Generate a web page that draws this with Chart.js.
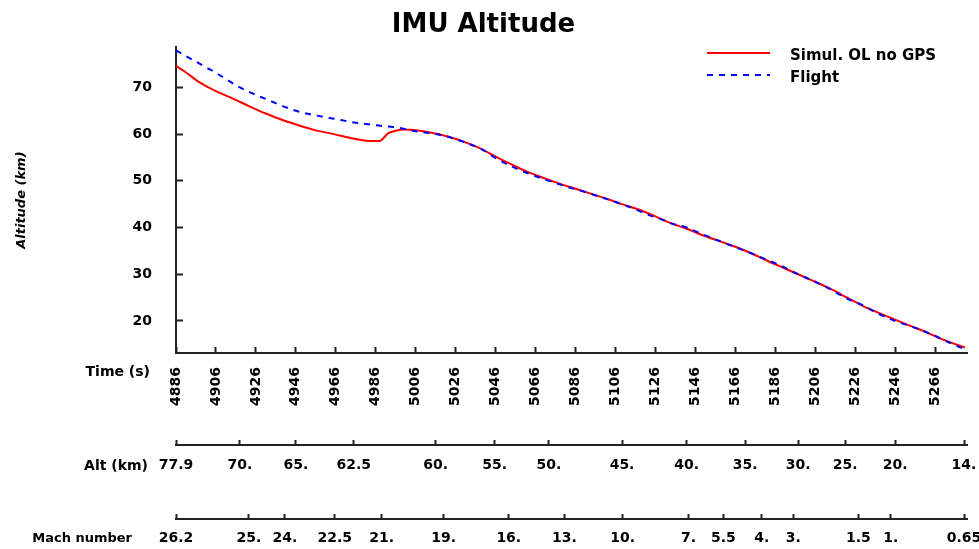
<!DOCTYPE html>
<html>
<head>
<meta charset="utf-8">
<title>IMU Altitude</title>
<script src="https://cdn.jsdelivr.net/npm/chart.js@4.4.1/dist/chart.umd.min.js"></script>
<style>
  html, body { margin: 0; padding: 0; background: #fff; }
  #wrap { width: 979px; height: 549px; }
</style>
</head>
<body>
<div id="wrap"><canvas id="c" width="979" height="549"></canvas></div>
<script>
// Simulated open-loop trajectory without GPS aiding: time (s) and altitude (km)
const simTime = [4886, 4890, 4898, 4906, 4915, 4923, 4931, 4940, 4948, 4956, 4965, 4973, 4981, 4988,
  4990, 4992, 4996, 5000, 5005, 5014, 5022, 5030, 5038, 5046, 5054, 5062, 5070, 5078, 5086, 5094,
  5102, 5110, 5118, 5126, 5134, 5142, 5150, 5158, 5166, 5174, 5182, 5190, 5198, 5206, 5214, 5222,
  5230, 5238, 5246, 5254, 5262, 5270, 5281];
const simAlt = [74.6, 73.5, 71.0, 69.2, 67.5, 65.9, 64.4, 62.9, 61.8, 60.8, 60.0, 59.2, 58.6, 58.5,
  59.2, 60.1, 60.7, 61.0, 60.9, 60.3, 59.5, 58.4, 57.0, 55.2, 53.5, 51.9, 50.6, 49.4, 48.3, 47.2,
  46.1, 44.9, 43.8, 42.4, 40.9, 39.7, 38.3, 37.1, 35.9, 34.5, 32.9, 31.4, 29.9, 28.4, 26.8, 25.0,
  23.2, 21.7, 20.3, 18.9, 17.5, 16.0, 14.3];

// Flight record: time (s) and altitude (km)
const flightTime = [4886, 4896, 4906, 4918, 4931, 4946, 4956, 4965, 4975, 4986, 4998, 5006, 5016,
  5024, 5032, 5039, 5045.5, 5052, 5058, 5064, 5072.7, 5082, 5090, 5098, 5109.3, 5116, 5122, 5128,
  5134, 5141.7, 5150, 5160, 5170.9, 5180, 5189, 5197.5, 5206, 5214, 5221, 5230, 5238, 5246, 5255,
  5264, 5272, 5280.5];
const flightAlt = [77.9, 75.5, 73.1, 70.0, 67.5, 65.0, 64.0, 63.3, 62.5, 61.9, 61.3, 60.6, 60.0,
  59.2, 58.0, 56.8, 55.0, 53.5, 52.3, 51.3, 50.0, 48.7, 47.7, 46.6, 45.0, 43.9, 42.8, 41.9,
  40.9, 40.0, 38.5, 36.8, 35.0, 33.4, 31.8, 30.0, 28.4, 26.7, 25.0, 23.3, 21.5, 20.0, 18.7,
  17.2, 15.6, 14.0];

const seriesNames = ['Simul. OL no GPS', 'Flight'];

// Time axis ticks (s)
const timeTicks = [4886, 4906, 4926, 4946, 4966, 4986, 5006, 5026, 5046, 5066, 5086, 5106,
  5126, 5146, 5166, 5186, 5206, 5226, 5246, 5266];

// Secondary scales: the time (s) at which each altitude / Mach value is reached
const altTickTime = [4886, 4918, 4946, 4975, 5016, 5045.5, 5072.7, 5109.3, 5141.7, 5170.9,
  5197.5, 5221, 5246, 5280.5];
const altTickLabel = ['77.9', '70.', '65.', '62.5', '60.', '55.', '50.', '45.', '40.', '35.',
  '30.', '25.', '20.', '14.'];
const machTickTime = [4886, 4922.5, 4940.5, 4965.5, 4989, 5020, 5052.6, 5080.5, 5109.6, 5142.6,
  5160, 5179.3, 5195, 5227.6, 5243.8, 5280.5];
const machTickLabel = ['26.2', '25.', '24.', '22.5', '21.', '19.', '16.', '13.', '10.', '7.',
  '5.5', '4.', '3.', '1.5', '1.', '0.65'];

// Altitude axis ticks (km)
const altTicks = [20, 30, 40, 50, 60, 70];

const rowNames = ['Time (s)', 'Alt (km)', 'Mach number'];

const FONT = "'DejaVu Sans', 'Noto Sans', sans-serif";
const INK = '#000';
const AXIS = '#222';
const tickFont = { family: FONT, size: 14, weight: 'bold' };

const pts = (xs, ys) => xs.map((x, i) => ({ x, y: ys[i] }));
const exactTicks = (vals) => (scale) => { scale.ticks = vals.map(v => ({ value: v })); };
const fixHeight = (h) => (scale) => { scale.height = h; scale.paddingLeft = 0; scale.paddingRight = 0; };

function timeScale(id, opts) {
  return Object.assign({
    type: 'linear', position: 'bottom', min: 4886, max: 5282,
    border: { display: true, color: AXIS, width: 2 },
    grid: { display: true, drawOnChartArea: false, drawTicks: true, tickLength: -5, tickWidth: 2, tickColor: AXIS },
  }, opts);
}

// Two-row legend in the upper right corner
const legendBlock = {
  id: 'legendBlock',
  afterDraw(chart) {
    const ctx = chart.ctx;
    ctx.save();
    ctx.font = `bold 15px ${FONT}`;
    ctx.textBaseline = 'middle';
    ctx.textAlign = 'left';
    ctx.fillStyle = INK;
    chart.data.datasets.forEach((ds, i) => {
      const y = 53 + i * 22;
      ctx.strokeStyle = ds.borderColor;
      ctx.lineWidth = ds.borderWidth;
      ctx.setLineDash(ds.borderDash || []);
      ctx.beginPath();
      ctx.moveTo(707, y);
      ctx.lineTo(770, y);
      ctx.stroke();
      ctx.setLineDash([]);
      ctx.fillText(ds.label, 790, y + 3);
    });
    ctx.restore();
  }
};

// Row captions to the left of the three bottom scales
const rowLabels = {
  id: 'rowLabels',
  afterDraw(chart) {
    const ctx = chart.ctx;
    const rows = [
      { id: 'x', right: 150, dy: 19, size: 14 },
      { id: 'alt', right: 148, dy: 21, size: 14 },
      { id: 'mach', right: 132, dy: 20, size: 13 }
    ];
    ctx.save();
    ctx.fillStyle = INK;
    ctx.textAlign = 'right';
    ctx.textBaseline = 'middle';
    rows.forEach((r, i) => {
      const s = chart.scales[r.id];
      ctx.font = `bold ${r.size}px ${FONT}`;
      ctx.fillText(rowNames[i], r.right, s.top + r.dy);
    });
    ctx.restore();
  }
};

new Chart(document.getElementById('c'), {
  type: 'line',
  data: {
    datasets: [
      {
        label: seriesNames[0],
        data: pts(simTime, simAlt),
        borderColor: '#ff0000',
        borderWidth: 2,
        pointRadius: 0,
        cubicInterpolationMode: 'monotone',
        order: 1
      },
      {
        label: seriesNames[1],
        data: pts(flightTime, flightAlt),
        borderColor: '#0000ff',
        borderWidth: 2,
        borderDash: [6, 6],
        pointRadius: 0,
        cubicInterpolationMode: 'monotone',
        order: 0
      }
    ]
  },
  options: {
    responsive: false,
    animation: false,
    devicePixelRatio: 1,
    parsing: true,
    layout: { padding: { left: 0, right: 12, top: 0, bottom: 0 } },
    plugins: {
      legend: { display: false },
      tooltip: { enabled: false },
      title: {
        display: true,
        text: 'IMU Altitude',
        color: INK,
        font: { family: FONT, size: 26, weight: 'bold' },
        padding: { top: 10, bottom: 6 }
      }
    },
    scales: {
      x: timeScale('x', {
        weight: 0,
        afterBuildTicks: exactTicks(timeTicks),
        afterFit: fixHeight(92),
        grid: { display: true, drawOnChartArea: false, drawTicks: true, tickLength: -6, tickWidth: 2, tickColor: AXIS },
        ticks: { autoSkip: false, minRotation: 90, maxRotation: 90, padding: 20, color: INK, font: tickFont,
          callback: v => String(v) }
      }),
      alt: timeScale('alt', {
        weight: 1,
        afterBuildTicks: exactTicks(altTickTime),
        afterFit: fixHeight(74),
        ticks: { autoSkip: false, minRotation: 0, maxRotation: 0, padding: 17, color: INK, font: tickFont,
          callback: (v, i) => altTickLabel[i] }
      }),
      mach: timeScale('mach', {
        weight: 2,
        afterBuildTicks: exactTicks(machTickTime),
        afterFit: fixHeight(30),
        ticks: { autoSkip: false, minRotation: 0, maxRotation: 0, padding: 16, color: INK, font: tickFont,
          callback: (v, i) => machTickLabel[i] }
      }),
      y: {
        type: 'linear', position: 'left', min: 13.15, max: 78.6,
        afterBuildTicks: exactTicks(altTicks),
        afterFit: (s) => { s.width = 176; s.paddingTop = 0; s.paddingBottom = 0; },
        border: { display: true, color: AXIS, width: 2 },
        grid: { display: true, drawOnChartArea: false, drawTicks: true, tickLength: -7, tickWidth: 2, tickColor: AXIS },
        ticks: { padding: 31, color: INK, font: tickFont, callback: v => String(v) },
        title: {
          display: true, text: 'Altitude (km)', color: INK,
          font: { family: FONT, size: 13, weight: 'bold', style: 'italic' },
          padding: { top: 14, bottom: 0 }
        }
      }
    }
  },
  plugins: [legendBlock, rowLabels]
});
</script>
</body>
</html>
